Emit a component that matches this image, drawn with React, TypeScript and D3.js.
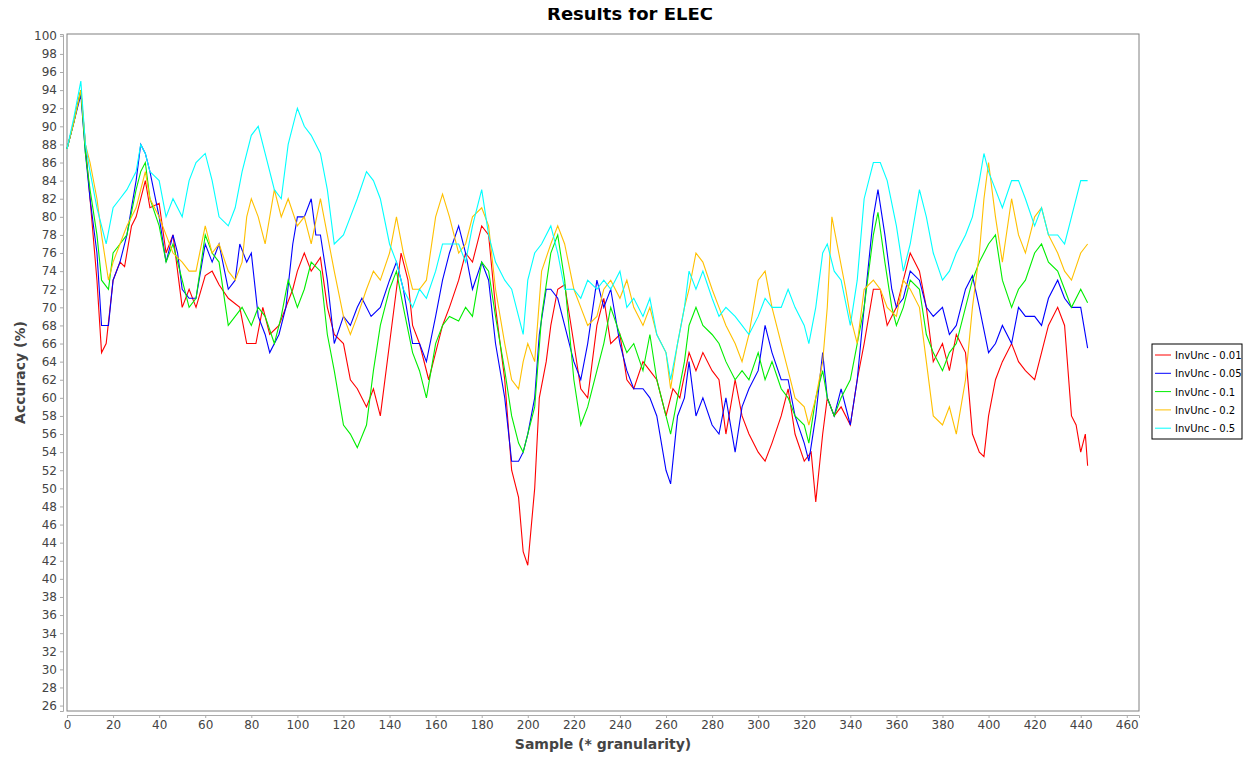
import React, { useEffect, useRef } from 'react';
import * as d3 from 'd3';

type Pt = [number, number];

const seriesNames = ['InvUnc - 0.01', 'InvUnc - 0.05', 'InvUnc - 0.1', 'InvUnc - 0.2', 'InvUnc - 0.5'];
const seriesColors = ['#ff0000', '#0000ff', '#00ee00', '#ffc000', '#00ffff'];

const red: Pt[] = [[0,87.5],[3,90.5],[6,94],[8,88],[10,82],[13,73],[15,65],[17,66],[20,73],[23,75],[25,74.5],[28,79],[30,80],[32,82],[34,84],[36,81],[40,81.5],[43,76],[46,78],[50,70],[53,72],[56,70],[60,73.5],[63,74],[66,72.5],[70,71],[75,70],[78,66],[82,66],[85,70],[88,67],[92,68],[95,70],[98,72],[100,74],[103,76],[106,74],[110,75.5],[113,70],[116,67],[120,66],[123,62],[126,61],[130,59],[133,61],[136,58],[140,66],[143,72],[145,76],[148,73],[150,68],[153,66],[157,62],[160,65],[163,68],[166,70],[170,73],[173,76],[176,75],[180,79],[183,78],[186,70],[190,62],[193,52],[196,49],[198,43],[200,41.5],[203,50],[205,60],[208,64],[210,68],[213,72],[216,72.5],[220,66],[223,61],[226,60],[230,68],[233,71],[236,66],[240,67],[243,62],[246,61],[250,64],[253,63],[256,62],[260,58],[263,61],[266,60],[270,65],[273,63],[276,65],[280,63],[283,62],[286,56],[290,62],[293,58],[296,56],[300,54],[303,53],[306,55],[310,58],[313,61],[316,56],[320,53],[323,54],[325,48.5],[328,56],[330,60],[333,58],[336,59],[340,57],[343,62],[346,66],[350,72],[353,72],[356,68],[360,70],[363,73],[366,76],[370,74],[373,70],[376,64],[380,66],[383,63],[386,67],[390,65],[393,56],[396,54],[398,53.5],[400,58],[403,62],[406,64],[410,66],[413,64],[416,63],[420,62],[423,65],[426,68],[430,70],[433,68],[436,58],[438,57],[440,54],[442,56],[443,52.5]];

const blue: Pt[] = [[0,87.5],[3,90.5],[6,93.5],[8,87],[10,82],[13,76],[15,68],[18,68],[20,73],[23,75],[26,78],[30,84],[32,88],[34,87],[36,85],[40,80],[43,75],[46,78],[48,76],[50,72],[53,71],[56,71],[60,77],[63,75],[66,77],[70,72],[73,73],[75,77],[78,75],[80,76],[83,69],[86,67],[88,65],[92,67],[95,70],[98,77],[100,80],[103,80],[106,82],[108,78],[110,78],[113,73],[116,66],[120,69],[123,68],[126,70],[128,71],[132,69],[136,70],[140,73],[143,75],[146,72],[150,66],[153,66],[156,64],[160,69],[163,73],[166,76],[170,79],[173,76],[176,72],[180,75],[183,73],[186,66],[190,60],[193,53],[196,53],[198,54],[200,56],[203,60],[205,67],[208,72],[210,72],[213,71],[216,68],[220,64],[223,62],[226,66],[230,73],[233,70],[236,72],[240,66],[243,63],[246,61],[250,61],[253,60],[256,58],[260,52],[262,50.5],[265,58],[268,60],[270,64],[273,58],[276,60],[280,57],[283,56],[286,60],[290,54],[293,59],[296,61],[300,63],[303,68],[306,65],[310,62],[313,62],[316,58],[320,55],[322,53],[325,58],[328,65],[330,60],[333,58],[336,61],[340,57],[343,62],[346,70],[350,80],[352,83],[355,78],[358,72],[360,70],[363,71],[366,74],[370,73],[373,70],[376,69],[380,70],[383,67],[386,68],[390,72],[393,73.5],[396,70],[400,65],[403,66],[406,68],[410,66],[413,70],[416,69],[420,69],[423,68],[426,71],[430,73],[433,71],[436,70],[440,70],[443,65.5]];

const green: Pt[] = [[0,87.5],[3,90.5],[6,94],[8,87],[10,83],[13,78],[15,73],[18,72],[20,76],[23,77],[26,78],[30,83],[32,85],[34,86],[36,82],[40,79],[43,75],[46,77],[50,73],[53,70],[56,71],[60,78],[63,76],[66,75],[70,68],[73,69],[76,70],[80,68],[83,70],[86,69],[90,66],[93,69],[96,73],[100,70],[103,72],[106,75],[110,74],[113,67],[116,63],[120,57],[123,56],[126,54.5],[130,57],[133,63],[136,68],[140,72],[143,74],[146,70],[150,65],[153,63],[156,60],[160,66],[163,68],[166,69],[170,68.5],[173,70],[176,69],[180,75],[183,74],[186,69],[190,63],[193,58],[196,55],[198,54],[200,56],[203,59],[206,69],[210,76],[213,78],[216,73],[220,62],[223,57],[226,59],[230,63],[233,66],[236,70],[240,67],[243,65],[246,66],[250,63],[253,67],[256,62],[260,58],[262,56],[265,60],[268,64],[270,68],[273,70],[276,68],[280,67],[283,66],[286,64],[290,62],[293,63],[296,62],[300,65],[303,62],[306,64],[310,61],[313,60],[316,58],[320,57],[322,55],[325,60],[328,63],[330,60],[333,58],[336,60],[340,62],[343,66],[346,70],[350,78],[352,80.5],[355,75],[358,70],[360,68],[363,70],[366,73],[370,72],[373,67],[376,65],[380,63],[383,65],[386,66],[390,70],[393,73],[396,75],[400,77],[403,78],[406,73],[410,70],[413,72],[416,73],[420,76],[423,77],[426,75],[430,74],[433,72],[436,70],[440,72],[443,70.5]];

const orange: Pt[] = [[0,87.5],[3,90.5],[6,94],[8,88],[10,86],[13,82],[15,78],[18,73],[20,75],[23,77],[26,79],[30,81],[32,83],[34,85],[36,82],[40,80],[43,78],[46,76],[50,75],[53,74],[56,74],[60,79],[63,76],[66,77],[70,74],[73,73],[76,75],[78,80],[80,82],[83,80],[86,77],[90,83],[93,80],[96,82],[100,79],[103,80],[106,77],[110,82],[113,78],[116,74],[120,69],[123,67],[126,69],[130,72],[133,74],[136,73],[140,76],[143,80],[146,76],[150,72],[153,72],[156,73],[160,80],[163,82.5],[166,80],[170,76],[173,77],[176,80],[180,81],[183,79],[186,72],[190,66],[193,62],[196,61],[198,64],[200,66],[203,64],[206,74],[210,77],[213,79],[216,77],[220,72],[223,70],[226,68],[230,69],[233,72],[236,73],[240,71],[243,73],[246,70],[250,68],[253,70],[256,67],[260,65],[262,61],[265,66],[268,70],[270,72],[273,76],[276,75],[280,72],[283,70],[286,68],[290,66],[293,64],[296,67],[300,73],[303,74],[306,70],[310,66],[313,63],[316,60],[320,59],[322,57],[325,60],[328,64],[330,70],[332,80],[335,76],[338,72],[340,69],[343,66],[346,72],[350,73],[353,72],[356,70],[360,69],[363,73],[366,72],[370,70],[373,64],[376,58],[380,57],[383,59],[386,56],[390,62],[393,70],[396,76],[398,82],[400,86],[403,80],[406,75],[410,82],[413,78],[416,76],[420,80],[423,81],[426,78],[430,76],[433,74],[436,73],[440,76],[443,77]];

const cyan: Pt[] = [[0,87.5],[3,91],[6,95],[8,88],[10,85],[13,81],[15,79],[17,77],[20,81],[23,82],[26,83],[30,85],[32,88],[34,87],[36,85],[40,84],[43,80],[46,82],[50,80],[53,84],[56,86],[60,87],[63,84],[66,80],[70,79],[73,81],[76,85],[80,89],[83,90],[86,87],[90,83],[93,82],[96,88],[100,92],[103,90],[106,89],[110,87],[113,83],[116,77],[120,78],[123,80],[126,82],[130,85],[133,84],[136,82],[140,77],[143,75],[146,72],[150,70],[153,72],[156,71],[160,74],[163,77],[166,77],[170,77],[173,75],[176,79],[180,83],[183,78],[186,75],[190,73],[193,72],[196,69],[198,67],[200,73],[203,76],[206,77],[210,79],[213,76],[216,72],[220,72],[223,71],[226,73],[230,72],[233,73],[236,72],[240,74],[243,70],[246,71],[250,69],[253,71],[256,67],[260,65],[262,62],[265,66],[268,70],[270,74],[273,72],[276,74],[280,71],[283,69],[286,70],[290,69],[293,68],[296,67],[300,69],[303,71],[306,70],[310,70],[313,72],[316,70],[320,68],[322,66],[325,70],[328,76],[330,77],[333,74],[336,73],[340,68],[343,73],[346,82],[350,86],[353,86],[356,84],[360,79],[363,74],[366,77],[370,83],[373,80],[376,76],[380,73],[383,74],[386,76],[390,78],[393,80],[396,84],[398,87],[400,85],[403,83],[406,81],[410,84],[413,84],[416,82],[420,79],[423,81],[426,78],[430,78],[433,77],[436,80],[440,84],[443,84]];

const seriesData = [red, blue, green, orange, cyan];
const xTicks = d3.range(0, 461, 20);
const yTicks = d3.range(26, 101, 2);

const App: React.FC = () => {
  const svgRef = useRef<SVGSVGElement>(null);

  useEffect(() => {
    if (!svgRef.current) return;
    const svg = d3.select(svgRef.current);
    svg.selectAll('*').remove();

    const left = 67, right = 1139, top = 34, bottom = 711;
    const x = d3.scaleLinear().domain([0, 465.3]).range([left, right]);
    const y = d3.scaleLinear().domain([25.4, 100.2]).range([bottom, top]);
    const font = 'DejaVu Sans, sans-serif';
    const grey = '#444';

    svg.append('rect').attr('width', 1260).attr('height', 760).attr('fill', '#fff');

    // title
    svg.append('text').attr('x', 630).attr('y', 20).attr('text-anchor', 'middle')
      .style('font', `bold 18px ${font}`).attr('fill', '#000').text('Results for ELEC');

    // plot area
    svg.append('rect').attr('x', left).attr('y', top).attr('width', right - left).attr('height', bottom - top)
      .attr('fill', '#fff').attr('stroke', '#808080').attr('stroke-width', 1);

    // y axis
    const yAxis = svg.append('g').attr('transform', `translate(${left - 4},0)`)
      .call(d3.axisLeft(y).tickValues(yTicks).tickSize(3).tickPadding(3).tickFormat(d3.format('d')));
    yAxis.select('.domain').attr('stroke', '#aaa');
    yAxis.selectAll('line').attr('stroke', '#aaa');
    yAxis.selectAll('text').style('font', `12px ${font}`).attr('fill', grey);

    // x axis
    const xAxis = svg.append('g').attr('transform', `translate(0,${bottom + 4})`)
      .call(d3.axisBottom(x).tickValues(xTicks).tickSize(3).tickPadding(2).tickFormat(d3.format('d')));
    xAxis.select('.domain').attr('stroke', '#aaa');
    xAxis.selectAll('line').attr('stroke', '#aaa');
    xAxis.selectAll('text').style('font', `12px ${font}`).attr('fill', grey);

    svg.append('text').attr('x', (left + right) / 2).attr('y', 749).attr('text-anchor', 'middle')
      .style('font', `bold 14px ${font}`).attr('fill', grey).text('Sample (* granularity)');
    svg.append('text').attr('transform', `translate(25,${(top + bottom) / 2}) rotate(-90)`)
      .attr('text-anchor', 'middle').style('font', `bold 14px ${font}`).attr('fill', grey).text('Accuracy (%)');

    const line = d3.line<Pt>().x(d => x(d[0])).y(d => y(d[1]));
    const g = svg.append('g');
    seriesData.forEach((s, i) => {
      g.append('path').datum(s).attr('d', line).attr('fill', 'none')
        .attr('stroke', seriesColors[i]).attr('stroke-width', 1.1);
    });

    // legend
    const lg = svg.append('g').attr('transform', 'translate(1152,344)');
    lg.append('rect').attr('width', 90).attr('height', 95).attr('fill', '#fff').attr('stroke', '#000');
    seriesNames.forEach((n, i) => {
      const row = lg.append('g').attr('transform', `translate(0,${11 + i * 18.3})`);
      row.append('line').attr('x1', 3).attr('x2', 19).attr('stroke', seriesColors[i]).attr('stroke-width', 1);
      row.append('text').attr('x', 23).attr('y', 4).style('font', `10px ${font}`).attr('fill', '#000').text(n);
    });
  }, []);

  return <svg ref={svgRef} width={1260} height={760} style={{ display: 'block', margin: '-8px' }} />;
};

export default App;
